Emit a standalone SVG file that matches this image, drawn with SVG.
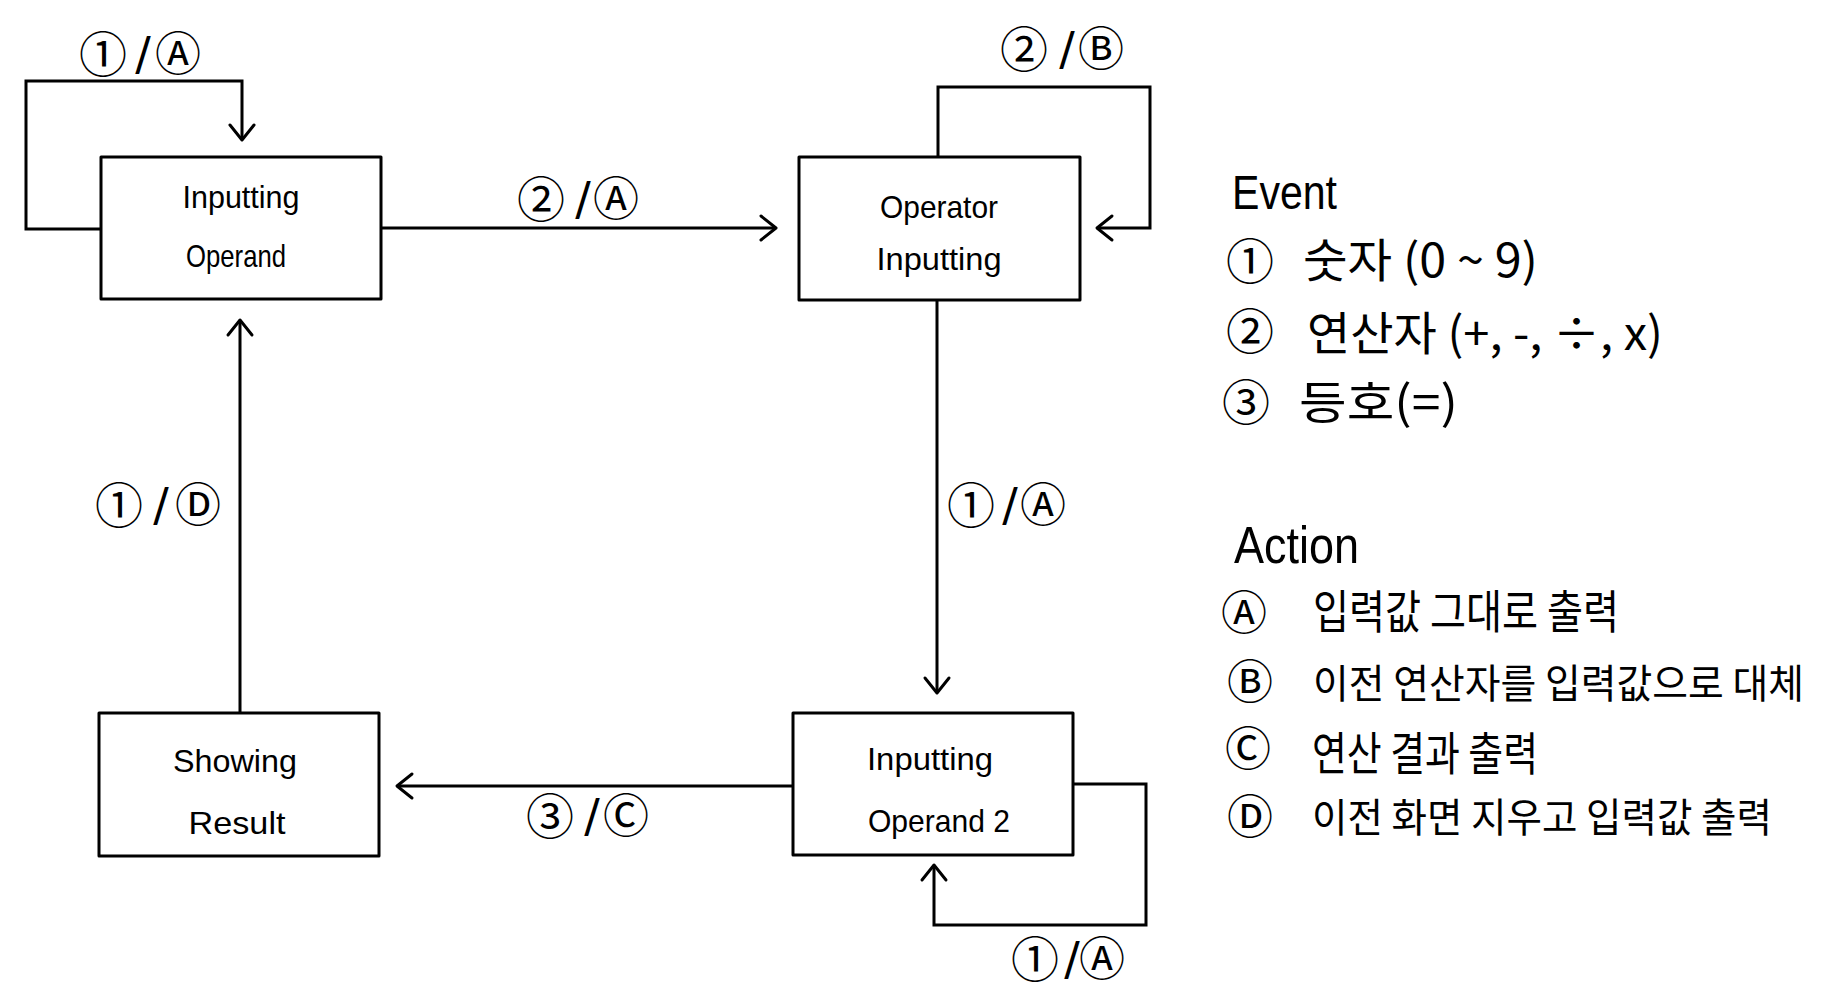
<svg xmlns="http://www.w3.org/2000/svg" width="1828" height="1000" viewBox="0 0 1828 1000">
<style>
.bg{fill:#fff}
.box{fill:#fff;stroke:#000;stroke-width:3;stroke-linejoin:round}
.ln{fill:none;stroke:#000;stroke-width:3;stroke-linejoin:miter}
.nt{font-family:"Liberation Sans",sans-serif;font-size:32px;text-anchor:middle;fill:#000}
.cl{font-family:"DejaVu Sans","Noto Sans CJK KR",sans-serif;font-size:46px;text-anchor:middle;fill:#000}
.dg{font-family:"Noto Sans CJK KR","DejaVu Sans",sans-serif;font-size:48px}
.hd{font-family:"Liberation Sans",sans-serif;fill:#000}
.kr{font-family:"Noto Sans CJK KR","Liberation Sans",sans-serif;font-size:46px;fill:#000}
.kr2{font-family:"Noto Sans CJK KR","Liberation Sans",sans-serif;font-size:40px;fill:#000}
</style>
<defs>
<marker id="arr" viewBox="-18 -15 21 30" refX="0" refY="0" markerWidth="21" markerHeight="30" markerUnits="userSpaceOnUse" orient="auto">
<path d="M-15,-12 L0,0 L-15,12" fill="none" stroke="#000" stroke-width="3" stroke-linecap="round" stroke-linejoin="round"/>
</marker>
</defs>
<rect class="bg" x="0" y="0" width="1828" height="1000"/>
<g id="connectors">
<path class="ln" d="M101,229 H26 V81 H242 V140" marker-end="url(#arr)"/>
<path class="ln" d="M381,228 H776" marker-end="url(#arr)"/>
<path class="ln" d="M938,157 V87 H1150 V228 H1097" marker-end="url(#arr)"/>
<path class="ln" d="M937,300 V693" marker-end="url(#arr)"/>
<path class="ln" d="M793,786 H397" marker-end="url(#arr)"/>
<path class="ln" d="M1073,784 H1146 V925 H934 V865" marker-end="url(#arr)"/>
<path class="ln" d="M240,713 V320" marker-end="url(#arr)"/>
<text class="cl"><tspan class="dg" x="103" y="72">①</tspan><tspan x="143" y="70">/</tspan><tspan x="178" y="70">Ⓐ</tspan></text>
<text class="cl"><tspan class="dg" x="541" y="217">②</tspan><tspan x="583" y="215">/</tspan><tspan x="616" y="215">Ⓐ</tspan></text>
<text class="cl"><tspan class="dg" x="1024" y="67">②</tspan><tspan x="1067" y="65">/</tspan><tspan x="1101" y="65">Ⓑ</tspan></text>
<text class="cl"><tspan class="dg" x="971" y="523">①</tspan><tspan x="1010" y="521">/</tspan><tspan x="1043" y="521">Ⓐ</tspan></text>
<text class="cl"><tspan class="dg" x="550" y="834">③</tspan><tspan x="592" y="832">/</tspan><tspan x="626" y="832">Ⓒ</tspan></text>
<text class="cl"><tspan class="dg" x="1035" y="977">①</tspan><tspan x="1072" y="975">/</tspan><tspan x="1102" y="975">Ⓐ</tspan></text>
<text class="cl"><tspan class="dg" x="119" y="523">①</tspan><tspan x="161" y="521">/</tspan><tspan x="198" y="521">Ⓓ</tspan></text>
</g>
<g id="inputting-operand">
<rect class="box" x="101" y="157" width="280" height="142"/>
<text class="nt" x="241" y="208" textLength="117" lengthAdjust="spacingAndGlyphs">Inputting</text>
<text class="nt" x="236" y="267" textLength="100" lengthAdjust="spacingAndGlyphs">Operand</text>
</g>
<g id="operator-inputting">
<rect class="box" x="799" y="157" width="281" height="143"/>
<text class="nt" x="939" y="218" textLength="118" lengthAdjust="spacingAndGlyphs">Operator</text>
<text class="nt" x="939" y="270" textLength="125" lengthAdjust="spacingAndGlyphs">Inputting</text>
</g>
<g id="showing-result">
<rect class="box" x="99" y="713" width="280" height="143"/>
<text class="nt" x="235" y="772" textLength="124" lengthAdjust="spacingAndGlyphs">Showing</text>
<text class="nt" x="237" y="834" textLength="97" lengthAdjust="spacingAndGlyphs">Result</text>
</g>
<g id="inputting-operand-2">
<rect class="box" x="793" y="713" width="280" height="142"/>
<text class="nt" x="930" y="770" textLength="126" lengthAdjust="spacingAndGlyphs">Inputting</text>
<text class="nt" x="939" y="832" textLength="142" lengthAdjust="spacingAndGlyphs">Operand 2</text>
</g>
<g id="legend-event">
<text class="hd" x="1232" y="209" font-size="48" textLength="105" lengthAdjust="spacingAndGlyphs">Event</text>
<text class="cl dg" x="1250" y="279">①</text>
<text class="kr" x="1303" y="277" textLength="235" lengthAdjust="spacingAndGlyphs">숫자 (0 ~ 9)</text>
<text class="cl dg" x="1250" y="349">②</text>
<text class="kr" x="1307" y="350" textLength="356" lengthAdjust="spacingAndGlyphs">연산자 (+, -, ÷, x)</text>
<text class="cl dg" x="1246" y="420">③</text>
<text class="kr" x="1299" y="419" textLength="159" lengthAdjust="spacingAndGlyphs">등호(=)</text>
</g>
<g id="legend-action">
<text class="hd" x="1234" y="563" font-size="52" textLength="125" lengthAdjust="spacingAndGlyphs">Action</text>
<text class="cl" x="1244" y="629">Ⓐ</text>
<text class="kr" x="1313" y="628" textLength="306" lengthAdjust="spacingAndGlyphs">입력값 그대로 출력</text>
<text class="cl" x="1250" y="698">Ⓑ</text>
<text class="kr2" x="1313" y="698" textLength="491" lengthAdjust="spacingAndGlyphs">이전 연산자를 입력값으로 대체</text>
<text class="cl" x="1248" y="765">Ⓒ</text>
<text class="kr" x="1312" y="770" textLength="226" lengthAdjust="spacingAndGlyphs">연산 결과 출력</text>
<text class="cl" x="1250" y="833">Ⓓ</text>
<text class="kr2" x="1312" y="832" textLength="460" lengthAdjust="spacingAndGlyphs">이전 화면 지우고 입력값 출력</text>
</g>
</svg>
